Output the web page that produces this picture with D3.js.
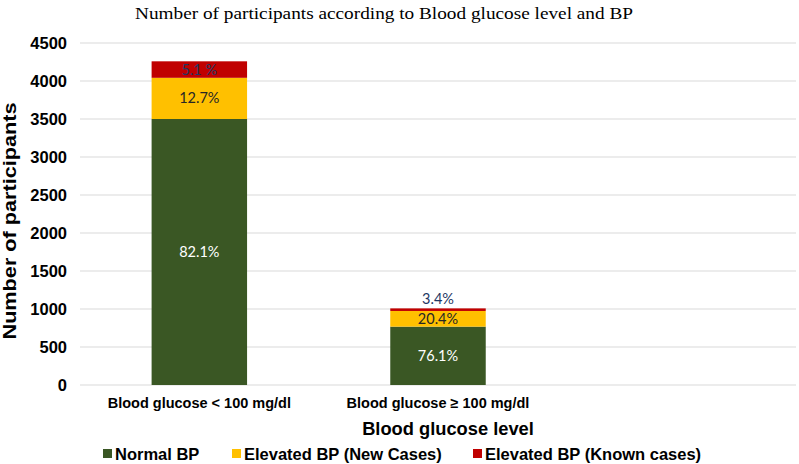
<!DOCTYPE html>
<html>
<head>
<meta charset="utf-8">
<script src="https://cdn.jsdelivr.net/npm/d3@7"></script>
<style>
  body { margin: 0; background: #fff; }
</style>
</head>
<body>
<div id="chart"></div>
<script>
// Data
const categories = ["Blood glucose < 100 mg/dl", "Blood glucose \u2265 100 mg/dl"];
const series = ["Normal BP", "Elevated BP (New Cases)", "Elevated BP (Known cases)"];
const normalBP = [3500, 768];
const newCases = [542, 206];
const knownCases = [217, 34];
const pctNormal = ["82.1%", "76.1%"];
const pctNew = ["12.7%", "20.4%"];
const pctKnown = ["5.1 %", "3.4%"];
const yTicks = [0, 500, 1000, 1500, 2000, 2500, 3000, 3500, 4000, 4500];

const colors = ["#3a5724", "#ffc000", "#c00000"];
const labelColors = ["#ffffff", "#262626", "#1f3864"];

const sans = "Arial, 'Liberation Sans', sans-serif";
const width = 799, height = 464;
const margin = { top: 43, right: 3, bottom: 79, left: 80 };

const svg = d3.select("#chart").append("svg")
    .attr("width", width).attr("height", height)
    .style("font-family", sans);

// Scales (third slot left empty like the original)
const x = d3.scaleBand()
    .domain([...categories, "__empty"])
    .range([margin.left, width - margin.right])
    .paddingInner(0.6).paddingOuter(0.3);

const y = d3.scaleLinear()
    .domain([0, 4500])
    .range([height - margin.bottom, margin.top]);

// Gridlines
svg.append("g")
    .selectAll("line")
    .data(yTicks)
    .join("line")
    .attr("x1", margin.left).attr("x2", width - margin.right)
    .attr("y1", d => y(d)).attr("y2", d => y(d))
    .attr("stroke", "#d9d9d9").attr("stroke-width", 1.2);

// Y axis labels
const yAxis = d3.axisLeft(y).tickValues(yTicks).tickFormat(d3.format("d"))
    .tickSize(0).tickPadding(13);
svg.append("g")
    .attr("transform", `translate(${margin.left},0)`)
    .call(yAxis)
    .call(g => g.select(".domain").remove())
    .selectAll("text")
    .style("font-family", sans)
    .attr("font-size", 16.5).attr("font-weight", "bold").attr("fill", "#000");

// Stacks
const rows = categories.map((c, i) => ({
    cat: c,
    "Normal BP": normalBP[i],
    "Elevated BP (New Cases)": newCases[i],
    "Elevated BP (Known cases)": knownCases[i]
}));
const stacked = d3.stack().keys(series)(rows);
const pcts = [pctNormal, pctNew, pctKnown];

stacked.forEach((layer, si) => {
    svg.append("g")
        .selectAll("rect")
        .data(layer)
        .join("rect")
        .attr("x", d => x(d.data.cat))
        .attr("width", x.bandwidth())
        .attr("y", d => y(d[1]))
        .attr("height", d => y(d[0]) - y(d[1]))
        .attr("fill", colors[si]);
});

// Data labels
stacked.forEach((layer, si) => {
    svg.append("g")
        .selectAll("text")
        .data(layer)
        .join("text")
        .attr("x", d => x(d.data.cat) + x.bandwidth() / 2)
        .attr("y", d => {
            const h = y(d[0]) - y(d[1]);
            if (h < 12) return y(d[1]) - 9;
            return (y(d[0]) + y(d[1])) / 2;
        })
        .attr("dy", "0.35em")
        .attr("text-anchor", "middle")
        .style("font-family", "Lato, 'Open Sans', sans-serif")
        .attr("font-size", 14.5)
        .attr("fill", labelColors[si])
        .text((d, i) => pcts[si][i]);
});

// X category labels
svg.append("g")
    .selectAll("text")
    .data(categories)
    .join("text")
    .attr("x", d => x(d) + x.bandwidth() / 2)
    .attr("y", 408)
    .attr("text-anchor", "middle")
    .attr("font-size", 14.5).attr("font-weight", "bold")
    .text(d => d);

// Titles
svg.append("text")
    .attr("x", 384).attr("y", 19)
    .attr("text-anchor", "middle")
    .style("font-family", "'Liberation Serif', 'Times New Roman', serif")
    .attr("font-size", 17)
    .attr("textLength", 498).attr("lengthAdjust", "spacingAndGlyphs")
    .text("Number of participants according to Blood glucose level and BP");

svg.append("text")
    .attr("x", 448).attr("y", 435)
    .attr("text-anchor", "middle")
    .attr("font-size", 18.3).attr("font-weight", "bold")
    .text("Blood glucose level");

svg.append("text")
    .attr("transform", `translate(16,221) rotate(-90)`)
    .attr("text-anchor", "middle")
    .attr("font-size", 18.5).attr("font-weight", "bold")
    .attr("textLength", 237).attr("lengthAdjust", "spacingAndGlyphs")
    .text("Number of participants");

// Legend
const legendX = [103, 232, 473];
const legend = svg.append("g")
    .selectAll("g")
    .data(series)
    .join("g")
    .attr("transform", (d, i) => `translate(${legendX[i]},454)`);
legend.append("rect")
    .attr("x", 0).attr("y", -5).attr("width", 9).attr("height", 9)
    .attr("fill", (d, i) => colors[i]);
legend.append("text")
    .attr("x", 12).attr("y", 0)
    .attr("dy", "0.36em")
    .attr("font-size", 16.5).attr("font-weight", "bold")
    .text(d => d);
</script>
</body>
</html>
